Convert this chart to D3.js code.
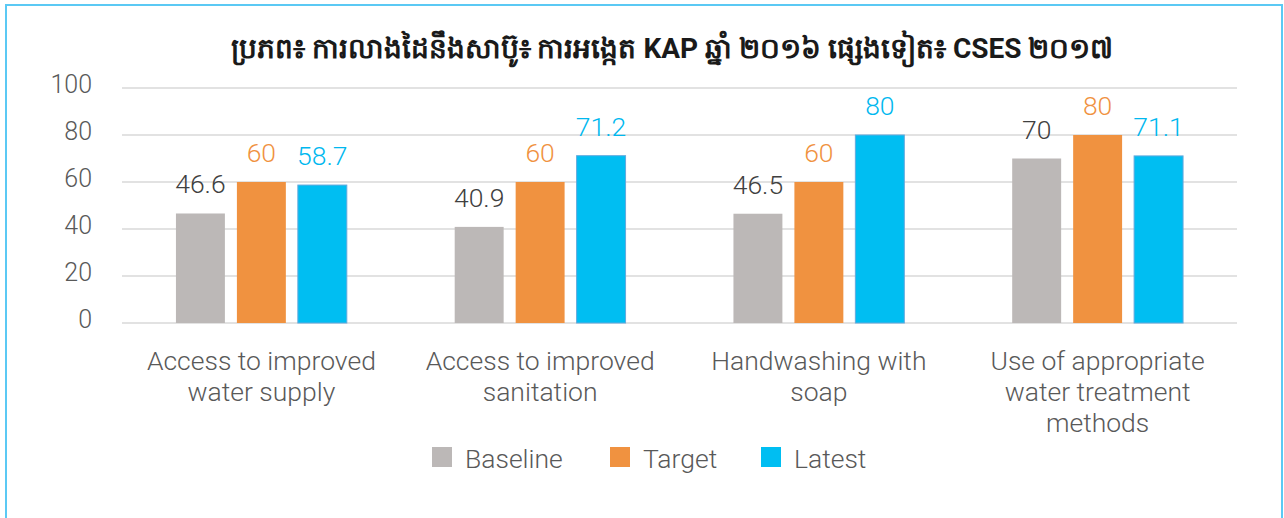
<!DOCTYPE html>
<html>
<head>
<meta charset="utf-8">
<script src="https://cdn.jsdelivr.net/npm/d3@7"></script>
<style>
  html, body { margin: 0; padding: 0; background: #fff; }
  svg { display: block; font-family: Roboto, "Liberation Sans", sans-serif; }
</style>
</head>
<body>
<svg id="chart" width="1284" height="518"></svg>
<script>
const titleText = "ប្រភព៖ ការលាងដៃនឹងសាប៊ូ៖ ការអង្កេត KAP ឆ្នាំ ២០១៦ ផ្សេងទៀត៖ CSES ២០១៧";
const categories = [
  ["Access to improved", "water supply"],
  ["Access to improved", "sanitation"],
  ["Handwashing with", "soap"],
  ["Use of appropriate", "water treatment", "methods"]
];
const seriesNames = ["Baseline", "Target", "Latest"];
const baselineValues = [46.6, 40.9, 46.5, 70];
const targetValues = [60, 60, 60, 80];
const latestValues = [58.7, 71.2, 80, 71.1];
const yTicks = [0, 20, 40, 60, 80, 100];

const seriesValues = [baselineValues, targetValues, latestValues];
const barColors = ["#BCB8B7", "#F09240", "#00BEF2"];
const labelColors = ["#404040", "#F0923F", "#00B8EF"];
const textGrey = "#595959";
const fs = 26.5;

const svg = d3.select("#chart");

// outer frame
svg.append("rect")
  .attr("x", 6).attr("y", 5).attr("width", 1276).attr("height", 530)
  .attr("fill", "none").attr("stroke", "#5BC9F4").attr("stroke-width", 2);

// title
svg.append("text")
  .attr("x", 672).attr("y", 58)
  .attr("text-anchor", "middle")
  .attr("font-size", 28).attr("font-weight", 700)
  .attr("fill", "#1a1a1a")
  .text(titleText);

const catIdx = categories.map((d, i) => i);
const x0 = d3.scaleBand().domain(catIdx).range([122, 1237]).paddingInner(0).paddingOuter(0);
const x1 = d3.scaleBand().domain(seriesNames).range([0, x0.bandwidth()])
  .paddingInner(0.197).paddingOuter(0.885);
const y = d3.scaleLinear().domain([0, 100]).range([323, 88]);

// gridlines
svg.append("g").selectAll("line").data(yTicks).join("line")
  .attr("x1", 122).attr("x2", 1237)
  .attr("y1", d => y(d)).attr("y2", d => y(d))
  .attr("stroke", "#D9D9D9").attr("stroke-width", 1.5);

// y axis labels
const yAxis = d3.axisLeft(y).tickValues(yTicks).tickSize(0).tickPadding(0);
const yg = svg.append("g").attr("transform", "translate(92,-4)").call(yAxis);
yg.select(".domain").remove();
yg.selectAll("text").attr("font-size", 25).attr("font-weight", 300)
  .attr("fill", textGrey).attr("font-family", "Roboto, sans-serif");

// bars
const groups = svg.append("g").selectAll("g").data(catIdx).join("g")
  .attr("transform", d => `translate(${x0(d)},0)`);

seriesNames.forEach((s, si) => {
  groups.append("rect")
    .attr("x", x1(s))
    .attr("width", x1.bandwidth())
    .attr("y", d => y(seriesValues[si][d]))
    .attr("height", d => y(0) - y(seriesValues[si][d]))
    .attr("fill", barColors[si])
    .attr("stroke", si === 2 ? "#62A9DD" : "none")
    .attr("stroke-width", si === 2 ? 1 : 0);
  groups.append("text")
    .attr("x", x1(s) + x1.bandwidth() / 2)
    .attr("y", d => y(seriesValues[si][d]) - 20)
    .attr("text-anchor", "middle")
    .attr("font-size", fs).attr("font-weight", 300)
    .attr("fill", labelColors[si])
    .text(d => seriesValues[si][d]);
});

// category labels
const catG = svg.append("g").selectAll("text").data(catIdx).join("text")
  .attr("x", d => x0(d) + x0.bandwidth() / 2)
  .attr("y", 370)
  .attr("text-anchor", "middle")
  .attr("font-size", fs).attr("font-weight", 300)
  .attr("fill", textGrey);
catG.each(function(d) {
  const t = d3.select(this);
  categories[d].forEach((line, li) => {
    t.append("tspan").attr("x", x0(d) + x0.bandwidth() / 2)
      .attr("y", 370 + li * 31).text(line);
  });
});

// legend
const legendX = [432, 610, 761];
const lg = svg.append("g").selectAll("g").data(seriesNames).join("g")
  .attr("transform", (d, i) => `translate(${legendX[i]},447)`);
lg.append("rect").attr("width", 20).attr("height", 20)
  .attr("fill", (d, i) => barColors[i]);
lg.append("text").attr("x", 33).attr("y", 21)
  .attr("font-size", fs).attr("font-weight", 300)
  .attr("fill", textGrey).text(d => d);
</script>
</body>
</html>
